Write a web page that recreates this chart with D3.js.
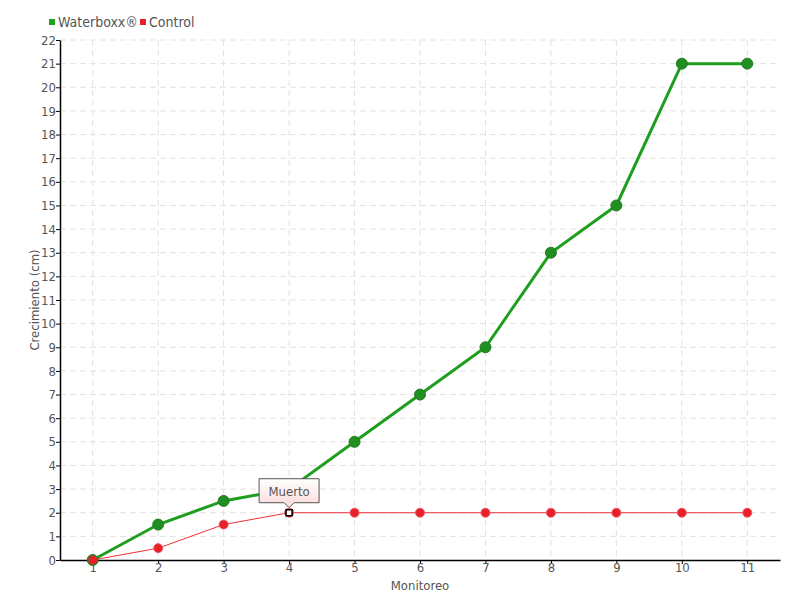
<!DOCTYPE html>
<html><head><meta charset="utf-8">
<script src="https://cdn.jsdelivr.net/npm/d3@7"></script>
<style>
body{margin:0;background:#fff;}
text{font-family:"DejaVu Sans Condensed","DejaVu Sans",sans-serif;font-stretch:condensed;fill:#555;}
</style></head><body>
<svg id="c" width="800" height="600"></svg>
<script>
const categories = [1,2,3,4,5,6,7,8,9,10,11];
const waterboxx = [0,1.5,2.5,3,5,7,9,13,15,21,21];
const control = [0,0.5,1.5,2,2,2,2,2,2,2,2];
const yTicks = d3.range(0,23);
const seriesNames = ["Waterboxx®","Control"];
const annotation = {index:3, text:"Muerto"};

const FF = '"DejaVu Sans Condensed","DejaVu Sans",sans-serif';
const svg = d3.select("#c");
const L=60,R=780,T=40,B=560;
const x = d3.scaleLinear().domain([0.5,11.5]).range([L,R]);
const y = d3.scaleLinear().domain([0,22]).range([B,T]);

// grid
svg.append("g").selectAll("line").data(yTicks.slice(1)).join("line")
 .attr("x1",L).attr("x2",R).attr("y1",d=>y(d)).attr("y2",d=>y(d))
 .attr("stroke","#e2e2e2").attr("stroke-dasharray","6,4");
svg.append("g").selectAll("line").data(categories).join("line")
 .attr("x1",d=>x(d)).attr("x2",d=>x(d)).attr("y1",T).attr("y2",B)
 .attr("stroke","#e2e2e2").attr("stroke-dasharray","6,4");

// axes
const ya = svg.append("g").attr("transform",`translate(${L},0)`)
 .call(d3.axisLeft(y).tickValues(yTicks).tickSize(4).tickSizeOuter(0));
ya.select(".domain").attr("stroke","#000").attr("stroke-width",1.5);
ya.selectAll(".tick line").attr("stroke","#000");
ya.selectAll("text").attr("font-size",13).attr("fill","#555").attr("x",-4);
const xa = svg.append("g").attr("transform",`translate(0,${B})`)
 .call(d3.axisBottom(x).tickValues(categories).tickSize(4).tickSizeOuter(0));
xa.select(".domain").attr("stroke","#000").attr("stroke-width",1.5);
xa.selectAll(".tick line").attr("stroke","#000");
xa.selectAll("text").attr("font-size",13).attr("fill","#555").attr("y",3);
svg.selectAll(".tick text").style("font-family",FF).style("font-stretch","condensed");

svg.append("text").attr("x",420).attr("y",590).attr("text-anchor","middle").attr("font-size",13).text("Monitoreo");
svg.append("text").attr("transform","translate(39,300) rotate(-90)").attr("text-anchor","middle").attr("font-size",13).text("Crecimiento (cm)");

const line = d3.line().x((d,i)=>x(categories[i])).y(d=>y(d));
// control
svg.append("path").datum(control).attr("d",line).attr("fill","none").attr("stroke","#f0303a").attr("stroke-width",1);
svg.append("g").selectAll("circle").data(control).join("circle")
 .attr("cx",(d,i)=>x(categories[i])).attr("cy",d=>y(d)).attr("r",4.5)
 .attr("fill","#e8202a").attr("stroke","#f05a60").attr("stroke-width",1);
// waterboxx
svg.append("path").datum(waterboxx).attr("d",line).attr("fill","none").attr("stroke","#1e9e1e").attr("stroke-width",3);
svg.append("g").selectAll("circle").data(waterboxx).join("circle")
 .attr("cx",(d,i)=>x(categories[i])).attr("cy",d=>y(d)).attr("r",5.5)
 .attr("fill","#1f8f1f").attr("stroke","#2a7a2a").attr("stroke-width",1);
// first point red on top
svg.append("circle").attr("cx",x(categories[0])).attr("cy",y(control[0])).attr("r",4.5).attr("fill","#e8202a");

// annotation
const ax = x(categories[annotation.index]), ay = y(control[annotation.index]);
svg.append("rect").attr("x",ax-3).attr("y",ay-3).attr("width",6).attr("height",6).attr("fill","#fff").attr("stroke","#000").attr("stroke-width",1.5);
const grad = svg.append("defs").append("linearGradient").attr("id","g1").attr("x1",0).attr("x2",0).attr("y1",0).attr("y2",1);
grad.append("stop").attr("offset","0").attr("stop-color","#fff");
grad.append("stop").attr("offset","1").attr("stop-color","#fcd8d8");
const bw=60,bh=24, bx=ax-30, by=ay-34;
svg.append("path").attr("d",`M${bx},${by}h${bw}v${bh}h${-bw/2+5}l-5,5l-5,-5h${-bw/2+5}z`)
 .attr("fill","url(#g1)").attr("stroke","#555").attr("stroke-width",1);
svg.append("text").attr("x",ax).attr("y",by+17).attr("text-anchor","middle").attr("font-size",13).text(annotation.text);

// legend
const lg = svg.append("g");
const lx=[49,140], colors=["#1fa01f","#e8202a"];
seriesNames.forEach((n,i)=>{
  lg.append("rect").attr("x",lx[i]).attr("y",19).attr("width",6).attr("height",6).attr("fill",colors[i]);
  lg.append("text").attr("x",lx[i]+9).attr("y",27).attr("font-size",14).text(n);
});
</script></body></html>
